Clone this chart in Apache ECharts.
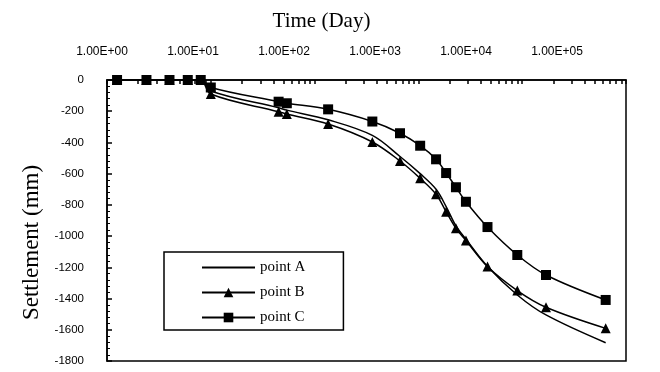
<!DOCTYPE html>
<html>
<head>
<meta charset="utf-8">
<script src="https://cdn.jsdelivr.net/npm/echarts@6/dist/echarts.min.js"></script>
<style>
html, body { margin: 0; padding: 0; background: #fff; }
#main { width: 660px; height: 372px; }
</style>
</head>
<body>
<div id="main"></div>
<script>
// time in days (log axis), settlement in mm
var days = [1.25, 2.4, 4, 6, 8, 10, 45, 54, 135, 360, 665, 1040, 1480, 1850, 2300, 2870, 4630, 8970, 16950, 63700];
var pointA = [0, 0, 0, 0, 0, -70, -178, -193, -255, -355, -490, -600, -700, -811, -935, -1020, -1195, -1377, -1505, -1683];
var pointB = [0, 0, 0, 0, 0, -90, -203, -218, -282, -397, -519, -630, -732, -844, -950, -1028, -1195, -1349, -1456, -1591];
var pointC = [0, 0, 0, 0, 0, -48, -139, -149, -188, -266, -341, -421, -508, -596, -687, -780, -942, -1121, -1249, -1409];
var timeLabels = ['1.00E+00', '1.00E+01', '1.00E+02', '1.00E+03', '1.00E+04', '1.00E+05'];

function pairs(vals) {
	var out = [];
	for (var i = 0; i < days.length; i++) {
		out.push([days[i], vals[i]]);
	}
	return out;
}

// excel style log ticks: 1,2,...,9,10,20,...
var logTicks = [];
for (var d = 0; d < 5; d++) {
	for (var m = 1; m <= 9; m++) {
		logTicks.push(m * Math.pow(10, d));
	}
}
logTicks.push(100000);

var serif = 'Liberation Serif';
var sans = 'Liberation Sans';

var chart = echarts.init(document.getElementById('main'));
var option = {
	animation: false,
	backgroundColor: '#fff',
	grid: [
		{
			left: 107, top: 80, right: 34, bottom: 11,
			show: true, borderColor: '#000', borderWidth: 1.5
		},
		{
			left: 102, right: 103, top: 80, height: 1
		}
	],
	legend: {
		orient: 'vertical',
		left: 164,
		top: 252,
		padding: [8, 38, 5, 37],
		borderColor: '#000',
		borderWidth: 1.5,
		itemWidth: 53,
		itemHeight: 12,
		itemGap: 10,
		textStyle: { fontFamily: serif, fontSize: 15, color: '#000' },
		data: [
			{ name: 'point A', itemStyle: { opacity: 0 } },
			'point B',
			'point C'
		]
	},
	xAxis: [
		{
			type: 'log',
			gridIndex: 0,
			position: 'top',
			logBase: 10,
			min: 1,
			max: 100000,
			axisLine: { lineStyle: { color: '#000', width: 1.5 } },
			axisTick: { inside: true, length: 4, customValues: logTicks, lineStyle: { color: '#000', width: 1.5 } },
			axisLabel: { show: false },
			splitLine: { show: false }
		},
		{
			type: 'value',
			gridIndex: 1,
			position: 'top',
			min: 0,
			max: 5,
			interval: 1,
			name: 'Time (Day)',
			nameLocation: 'middle',
			nameGap: 48,
			nameTextStyle: { fontFamily: serif, fontSize: 21, color: '#000', padding: [0, 16, 0, 0] },
			axisLine: { show: false },
			axisTick: { show: false },
			splitLine: { show: false },
			axisLabel: {
				margin: 22,
				fontFamily: sans,
				fontSize: 12,
				color: '#000',
				formatter: function (v) { return timeLabels[v]; }
			}
		}
	],
	yAxis: [
		{
			type: 'value',
			gridIndex: 0,
			min: -1800,
			max: 0,
			interval: 200,
			name: 'Settlement (mm)',
			nameLocation: 'middle',
			nameGap: 62,
			nameTextStyle: { fontFamily: serif, fontSize: 23, color: '#000', padding: [0, 44, 0, 0] },
			axisLine: { show: true, lineStyle: { color: '#000', width: 1.5 } },
			axisTick: { inside: true, length: 5, lineStyle: { color: '#000', width: 1.5 } },
			minorTick: { show: true, splitNumber: 5, length: 3, lineStyle: { color: '#000', width: 1 } },
			axisLabel: {
				margin: 23,
				fontFamily: sans,
				fontSize: 11.5,
				color: '#000',
				formatter: function (v) { return String(v); }
			},
			splitLine: { show: false }
		},
		{
			type: 'value',
			gridIndex: 1,
			show: false
		}
	],
	series: [
		{
			name: 'point A',
			type: 'line',
			xAxisIndex: 0,
			yAxisIndex: 0,
			smooth: 0.35,
			symbol: 'none',
			lineStyle: { color: '#000', width: 1.5 },
			itemStyle: { color: '#000' },
			data: pairs(pointA)
		},
		{
			name: 'point B',
			type: 'line',
			xAxisIndex: 0,
			yAxisIndex: 0,
			smooth: 0.35,
			symbol: 'triangle',
			symbolSize: 10,
			lineStyle: { color: '#000', width: 1.5 },
			itemStyle: { color: '#000' },
			data: pairs(pointB)
		},
		{
			name: 'point C',
			type: 'line',
			xAxisIndex: 0,
			yAxisIndex: 0,
			smooth: 0.35,
			symbol: 'rect',
			symbolSize: 10,
			lineStyle: { color: '#000', width: 1.5 },
			itemStyle: { color: '#000' },
			data: pairs(pointC)
		}
	]
};
chart.setOption(option);
</script>
</body>
</html>
